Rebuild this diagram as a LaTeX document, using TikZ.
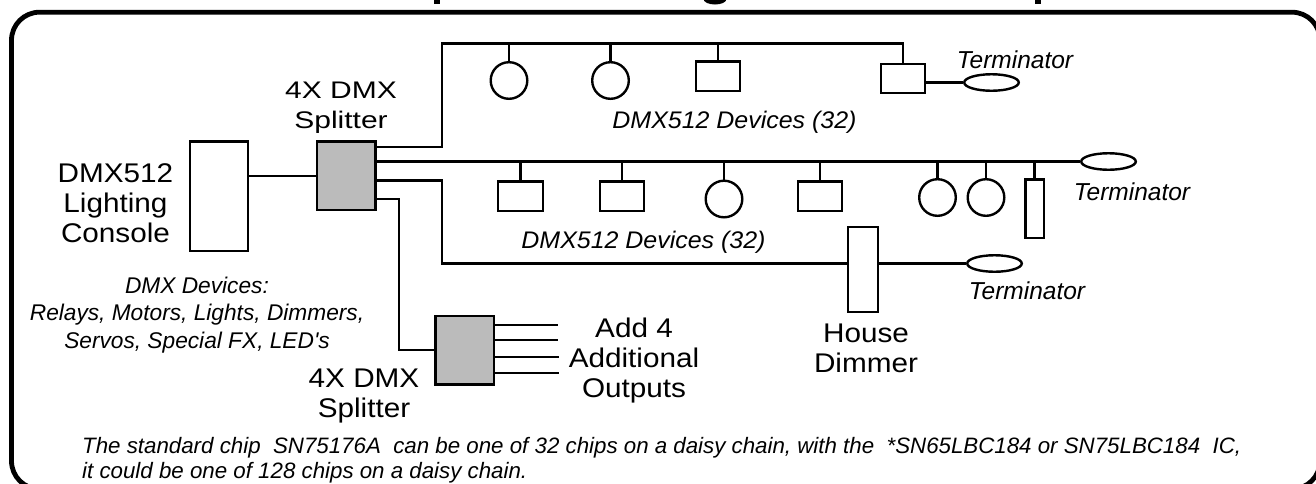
\documentclass[tikz,border=0pt]{standalone}
\usepackage{fontspec}
\setmainfont{Liberation Sans}
\newfontfamily\bigsans{Liberation Sans}[FakeStretch=1.1]
\newfontfamily\tallsans{Liberation Sans}[FakeStretch=1.25]
\newfontfamily\itsans{Liberation Sans}[FakeStretch=1.04]
\newfontfamily\plainsans{Liberation Sans}
\usetikzlibrary{shapes.geometric}
\definecolor{splitgray}{RGB}{187,187,187}
\newcommand{\stackc}[1]{\begin{tabular}[t]{@{}c@{}}#1\end{tabular}}
\newcommand{\stackl}[1]{\begin{tabular}[t]{@{}l@{}}#1\end{tabular}}
\tikzset{
  wire/.style={line width=2.4pt},
  devbox/.style={draw, line width=2.4pt, fill=white, inner sep=0pt, minimum width=44.5pt, minimum height=29.4pt},
  devcirc/.style={draw, circle, line width=2.4pt, fill=white, inner sep=0pt, minimum size=36.6pt},
  term/.style={draw, ellipse, line width=2.4pt, fill=white, inner sep=0pt, minimum width=54.6pt, minimum height=16.5pt},
  splitter/.style={draw, line width=2.4pt, fill=splitgray, inner sep=0pt, minimum width=58.6pt, minimum height=68.3pt},
  tallbox/.style={draw, line width=2.4pt, fill=white, inner sep=0pt},
  biglbl/.style={inner sep=0pt, anchor=base, font=\bigsans\fontsize{27}{30}\selectfont},
  splitlbl/.style={inner sep=0pt, anchor=base, font=\tallsans\fontsize{24}{30}\selectfont},
  devlbl/.style={inner sep=0pt, anchor=base, font=\itsans\itshape\fontsize{24}{28}\selectfont},
  termlbl/.style={inner sep=0pt, anchor=base, font=\itshape\fontsize{24.5}{28}\selectfont},
  notelbl/.style={inner sep=0pt, anchor=base, font=\plainsans\itshape\fontsize{22.7}{27.5}\selectfont},
  footlbl/.style={inner sep=0pt, anchor=base west, font=\itshape\fontsize{22.3}{25}\selectfont},
}
\begin{document}
\begin{tikzpicture}[x=1pt, y=-1pt]
\useasboundingbox (0,0) rectangle (1316,483);
\clip (0,0) rectangle (1316,483);
\fill[white] (0,0) rectangle (1316,483);
% cut-off title fragments
\fill (433.5,-1) rectangle (440,4);
\fill (715,-1) ellipse (11.5 and 5.5);
\fill (1034.5,-1) rectangle (1041,4);
% frame
\draw[line width=4.8pt, rounded corners=28pt] (11.5,12.2) rectangle (1320,489);

% main boxes
\node[tallbox, minimum width=58pt, minimum height=109.4pt] (console) at (219.2,196) {};
\node[splitter] (split1) at (346,175.8) {};
\node[splitter] (split2) at (464.7,350.2) {};

% bus 1 devices
\node[devcirc] (c11) at (509,80.5) {};
\node[devcirc] (c12) at (610.5,80.5) {};
\node[devbox] (d13) at (718,76.3) {};
\node[devbox] (d14) at (903,78.5) {};
\node[term] (term1) at (991.5,82.5) {};

% bus 2 devices
\node[devbox] (d21) at (520.5,196) {};
\node[devbox] (d22) at (622,196) {};
\node[devcirc] (c23) at (724,199) {};
\node[devbox] (d24) at (820,196) {};
\node[devcirc] (c25) at (937.5,197.5) {};
\node[devcirc] (c26) at (986,197.5) {};
\node[tallbox, minimum width=18.4pt, minimum height=58.4pt] (d27) at (1034.5,208.5) {};
\node[term] (term2) at (1108.5,161.5) {};

% bus 3
\node[tallbox, minimum width=29.8pt, minimum height=84.6pt] (dimmer) at (862.9,269.5) {};
\node[term] (term3) at (994.5,263.5) {};

% coordinates
\coordinate (b1a) at (442,147);
\coordinate (b1top) at (442,43.3);
\coordinate (b3a) at (442,180.3);
\coordinate (b4a) at (399,199);
\coordinate (o1) at (558,325);
\coordinate (o2) at (558,340);
\coordinate (o3) at (559,357);
\coordinate (o4) at (559,373);

% connectors
\draw[wire] (split1.west) -- (split1.west -| console.east);
% bus 1
\draw[wire] (split1.east |- b1a) -- (b1a) -- (b1top) -| (d14.north);
\foreach \n in {c11,c12,d13}{\draw[wire] (\n.north) -- (\n.north |- b1top);}
\draw[wire] (term1.west) -- (term1.west -| d14.east);
% bus 2
\draw[wire] (split1.east |- term2.west) -- (term2.west);
\foreach \n in {d21,d22,c23,d24,c25,c26,d27}{\draw[wire] (\n.north) -- (\n.north |- term2.west);}
% bus 3
\draw[wire] (split1.east |- b3a) -- (b3a) |- (dimmer.west |- term3.west);
\draw[wire] (dimmer.east |- term3.west) -- (term3.west);
% bus 4
\draw[wire] (split1.east |- b4a) -- (b4a) |- (split2.west);
\foreach \o in {o1,o2,o3,o4}{\draw[wire] (split2.east |- \o) -- (\o);}

% labels
\node[splitlbl] (lsplit1) at (341,98) {\stackc{4X DMX\\Splitter}};
\node[biglbl] (lconsole) at (115.5,182) {\stackc{DMX512\\Lighting\\Console}};
\node[biglbl] (lsplit2) at (364,387) {\stackc{4X DMX\\Splitter}};
\node[biglbl] (ladd) at (634,337) {\stackc{Add 4\\Additional\\Outputs}};
\node[biglbl] (lhouse) at (866,342) {\stackc{House\\Dimmer}};
\node[devlbl] (ldev1) at (734.5,128) {DMX512 Devices (32)};
\node[devlbl] (ldev2) at (643.5,248) {DMX512 Devices (32)};
\node[termlbl] (lterm1) at (1015,68) {Terminator};
\node[termlbl] (lterm2) at (1132,200) {Terminator};
\node[termlbl] (lterm3) at (1027,299) {Terminator};
\node[notelbl] (lnote) at (197,293) {\stackc{DMX Devices:\\Relays, Motors, Lights, Dimmers,\\Servos, Special FX, LED's}};
\node[footlbl] (lfoot) at (82,453) {\stackl{The standard chip\ \ SN75176A\ \ can be one of 32 chips on a daisy chain, with the\ \ *SN65LBC184 or SN75LBC184\ \ IC,\\it could be one of 128 chips on a daisy chain.}};
\end{tikzpicture}
\end{document}
